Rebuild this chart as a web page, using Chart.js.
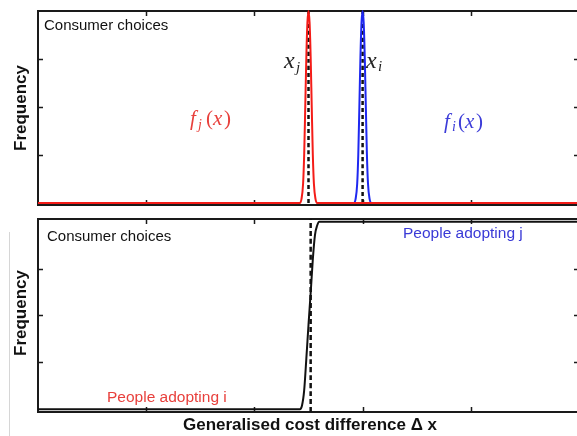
<!DOCTYPE html>
<html>
<head>
<meta charset="utf-8">
<script src="https://cdn.jsdelivr.net/npm/chart.js@4/dist/chart.umd.min.js"></script>
<style>
  html, body { margin: 0; padding: 0; background: #fff; width: 577px; height: 436px; overflow: hidden; }
  canvas { position: absolute; left: 0; }
  #topChart { top: 0; }
  #bottomChart { top: 210px; }
  #edge { position: absolute; left: 9px; top: 232px; width: 1px; height: 204px; background: #d6d6d6; }
</style>
</head>
<body>
<div id="edge"></div>
<canvas id="topChart" width="600" height="215"></canvas>
<canvas id="bottomChart" width="600" height="226"></canvas>
<script>
// x axis: generalised cost difference, ticks every unit
const xTicks = [1, 2, 3, 4];
const yTicks = [0.25, 0.5, 0.75];

// top panel: narrow distributions f_j (red) and f_i (blue)
const redX = [0, 2.42, 2.435, 2.45, 2.46, 2.47, 2.48, 2.49, 2.5, 2.51, 2.52, 2.53, 2.54, 2.55, 2.565, 2.58, 5];
const redY = [0, 0, 0.02, 0.1, 0.25, 0.5, 0.76, 0.94, 1, 0.94, 0.76, 0.5, 0.25, 0.1, 0.02, 0, 0];
const blueX = [2.9, 2.92, 2.935, 2.95, 2.96, 2.97, 2.98, 2.99, 3.0, 3.01, 3.02, 3.03, 3.04, 3.05, 3.065, 3.08, 3.1];
const blueY = [0, 0, 0.02, 0.1, 0.25, 0.5, 0.76, 0.94, 1, 0.94, 0.76, 0.5, 0.25, 0.1, 0.02, 0, 0];
const xjMark = 2.5;
const xiMark = 3.0;

// bottom panel: cumulative share of consumers
const cumX = [0, 2.42, 2.44, 2.46, 2.48, 2.5, 2.52, 2.54, 2.56, 2.58, 2.6, 2.63, 5];
const cumY = [0, 0, 0.02, 0.1, 0.27, 0.45, 0.62, 0.8, 0.93, 0.98, 1, 1, 1];
const switchMark = 2.52;

function pts(xs, ys) {
  return xs.map((v, i) => ({ x: v, y: ys[i] }));
}

const frame = {
  id: "frame",
  beforeDatasetsDraw(chart) {
    const { ctx, chartArea: { left, right, top, bottom }, scales: { x, y } } = chart;
    ctx.save();
    ctx.strokeStyle = "#1a1a1a";
    ctx.lineWidth = 2;
    ctx.strokeRect(left, top, right - left, bottom - top);
    ctx.lineWidth = 1.5;
    ctx.beginPath();
    xTicks.forEach((v) => {
      const px = Math.round(x.getPixelForValue(v)) + 0.5;
      ctx.moveTo(px, bottom); ctx.lineTo(px, bottom - 5);
      ctx.moveTo(px, top); ctx.lineTo(px, top + 5);
    });
    yTicks.forEach((v) => {
      const py = Math.round(y.getPixelForValue(v)) + 0.5;
      ctx.moveTo(left, py); ctx.lineTo(left + 5, py);
      ctx.moveTo(right, py); ctx.lineTo(right - 5, py);
    });
    ctx.stroke();
    ctx.restore();
  },
};

// text drawn on the canvas: plain labels and little math labels
const texts = {
  id: "texts",
  afterDraw(chart, args, opts) {
    const ctx = chart.ctx;
    ctx.save();
    (opts.items || []).forEach((it) => {
      ctx.fillStyle = it.color || "#111";
      ctx.font = it.font;
      ctx.textBaseline = "middle";
      ctx.textAlign = it.align || "left";
      if (it.rotate) {
        ctx.save();
        ctx.translate(it.x, it.y);
        ctx.rotate(-Math.PI / 2);
        ctx.fillText(it.text, 0, 0);
        ctx.restore();
      } else {
        ctx.fillText(it.text, it.x, it.y);
      }
    });
    ctx.textBaseline = "alphabetic";
    ctx.textAlign = "left";
    (opts.math || []).forEach((m) => {
      ctx.fillStyle = m.color;
      m.glyphs.forEach(([ch, dx, dy, size, italic]) => {
        ctx.font = (italic ? "italic " : "") + size + "px 'Liberation Serif', serif";
        ctx.fillText(ch, m.x + dx, m.y + dy);
      });
    });
    ctx.restore();
  },
};

function baseOptions(padding, yMin, yMax, textOpts) {
  return {
    responsive: false,
    animation: false,
    layout: { padding },
    elements: { point: { radius: 0 }, line: { cubicInterpolationMode: "monotone" } },
    plugins: { legend: { display: false }, tooltip: { enabled: false }, texts: textOpts },
    scales: {
      x: { type: "linear", min: 0, max: 5, display: false },
      y: { type: "linear", min: yMin, max: yMax, display: false },
    },
  };
}

const RED = "#f41c18";
const BLUE = "#1e28f0";
const sans = "'Liberation Sans', Arial, sans-serif";

// eslint-disable-next-line no-undef
new Chart(document.getElementById("topChart"), {
  type: "line",
  data: {
    datasets: [
      { data: pts(redX, redY), borderColor: RED, borderWidth: 2, clip: 4 },
      { data: pts(blueX, blueY), borderColor: BLUE, borderWidth: 2, clip: 4 },
      { data: pts([xjMark, xjMark], [0, 1]), borderColor: "#111", borderWidth: 2.5, borderDash: [4, 3], clip: 4 },
      { data: pts([xiMark, xiMark], [0, 1]), borderColor: "#111", borderWidth: 2.5, borderDash: [4, 3], clip: 4 },
    ],
  },
  options: baseOptions({ left: 38, top: 11, right: 21, bottom: 10 }, -0.0104, 1, {
    items: [
      { text: "Consumer choices", x: 44, y: 26, font: "15px " + sans },
      { text: "Frequency", x: 21, y: 108, font: "bold 17px " + sans, align: "center", rotate: true },
    ],
    math: [
      { color: "#222", x: 284, y: 68, glyphs: [["x", 0, 0, 24, true], ["j", 12, 4, 15, true]] },
      { color: "#222", x: 366, y: 68, glyphs: [["x", 0, 0, 24, true], ["i", 12, 3, 15, true]] },
      { color: "#e8403c", x: 190, y: 125, glyphs: [["f", 0, 0, 21, true], ["j", 8, 4, 14, true], ["(", 16, 0, 21, false], ["x", 23, 0, 21, true], [")", 34, 0, 21, false]] },
      { color: "#3c3cd8", x: 444, y: 128, glyphs: [["f", 0, 0, 21, true], ["i", 8, 3, 14, true], ["(", 14, 0, 21, false], ["x", 21, 0, 21, true], [")", 32, 0, 21, false]] },
    ],
  }),
  plugins: [frame, texts],
});

// eslint-disable-next-line no-undef
new Chart(document.getElementById("bottomChart"), {
  type: "line",
  data: {
    datasets: [
      { data: pts(cumX, cumY), borderColor: "#111", borderWidth: 2, clip: 4 },
      { data: pts([switchMark, switchMark], [-0.015, 1.015]), borderColor: "#111", borderWidth: 2.5, borderDash: [5, 3], clip: 4 },
    ],
  },
  options: baseOptions({ left: 38, top: 9, right: 21, bottom: 24 }, -0.015, 1.015, {
    items: [
      { text: "Consumer choices", x: 47, y: 27, font: "15px " + sans },
      { text: "People adopting j", x: 403, y: 24, font: "15.5px " + sans, color: "#3a3ad6" },
      { text: "People adopting i", x: 107, y: 188, font: "15.5px " + sans, color: "#e8403c" },
      { text: "Frequency", x: 21, y: 103, font: "bold 17px " + sans, align: "center", rotate: true },
      { text: "Generalised cost difference \u0394 x", x: 310, y: 215, font: "bold 17px " + sans, align: "center" },
    ],
  }),
  plugins: [frame, texts],
});
</script>
</body>
</html>
